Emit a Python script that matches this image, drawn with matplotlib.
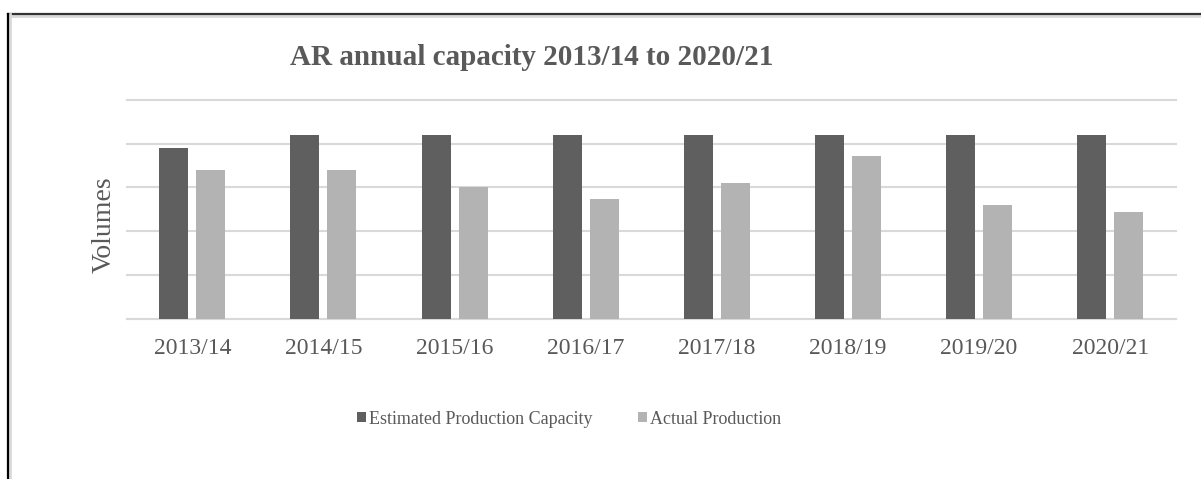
import matplotlib
matplotlib.use("Agg")
import matplotlib.pyplot as plt
import numpy as np
from matplotlib.lines import Line2D

categories = ["2013/14", "2014/15", "2015/16", "2016/17", "2017/18", "2018/19", "2019/20", "2020/21"]
capacity = [3.91, 4.21, 4.21, 4.21, 4.21, 4.21, 4.21, 4.21]
actual = [3.41, 3.41, 3.02, 2.73, 3.11, 3.71, 2.59, 2.43]
series_names = ["Estimated Production Capacity", "Actual Production"]
title = "AR annual capacity 2013/14 to 2020/21"
ylabel = "Volumes"

plt.rcParams['font.family'] = ['Liberation Serif', 'DejaVu Serif']
txt = '#595959'

fig = plt.figure(figsize=(12.01, 4.79), dpi=100)
ax = fig.add_axes([0.1055, 0.3347, 0.979 - 0.1055, 0.7912 - 0.3347])

x = np.arange(len(categories))
w = 0.221
off = 0.141
ax.bar(x - off, capacity, width=w, color='#5f5f5f', label=series_names[0], zorder=3)
ax.bar(x + off, actual, width=w, color='#b3b3b3', label=series_names[1], zorder=3)

ax.set_xlim(-0.5, len(categories) - 0.5)
ax.set_ylim(0, 5)
ax.set_yticks(np.arange(0, 6, 1))
ax.set_yticklabels([])
ax.tick_params(axis='y', length=0)
ax.tick_params(axis='x', length=0, pad=14, labelsize=17, labelcolor=txt)
ax.set_xticks(x)
ax.set_xticklabels(categories)
ax.grid(axis='y', color='#d9d9d9', linewidth=1.5, zorder=0)
for ln in ax.get_ygridlines():
    ln.set_clip_on(False)
for s in ['top', 'right', 'left']:
    ax.spines[s].set_visible(False)
ax.spines['bottom'].set_color('#d9d9d9')
ax.spines['bottom'].set_linewidth(1.5)

ax.set_ylabel(ylabel, fontsize=20, color=txt)
ax.yaxis.set_label_coords((117 - 126.7) / (1175.7 - 126.7), (318.7 - 225) / 218.7)
fig.text(532 / 1201, 1 - 65 / 479, title, ha='center', va='baseline', fontsize=21,
         fontweight='bold', color=txt)

leg = fig.legend(loc='center', bbox_to_anchor=(569 / 1201, 1 - 419 / 479), ncol=2, frameon=False,
                 fontsize=13, handlelength=0.5, handleheight=0.5, handletextpad=0.17,
                 columnspacing=2.5, labelcolor=txt)

# border lines
fig.add_artist(Line2D([8/1201, 1], [1 - 16/479, 1 - 16/479], color='#d9d9d9', linewidth=2.0, transform=fig.transFigure))
fig.add_artist(Line2D([8/1201, 1], [1 - 14/479, 1 - 14/479], color='#333333', linewidth=1.6, transform=fig.transFigure))
fig.add_artist(Line2D([10/1201, 10/1201], [0, 1 - 14/479], color='#d9d9d9', linewidth=2.0, transform=fig.transFigure))
fig.add_artist(Line2D([8/1201, 8/1201], [0, 1 - 14/479], color='#000000', linewidth=1.6, transform=fig.transFigure))

fig.savefig('out.png', dpi=100)
